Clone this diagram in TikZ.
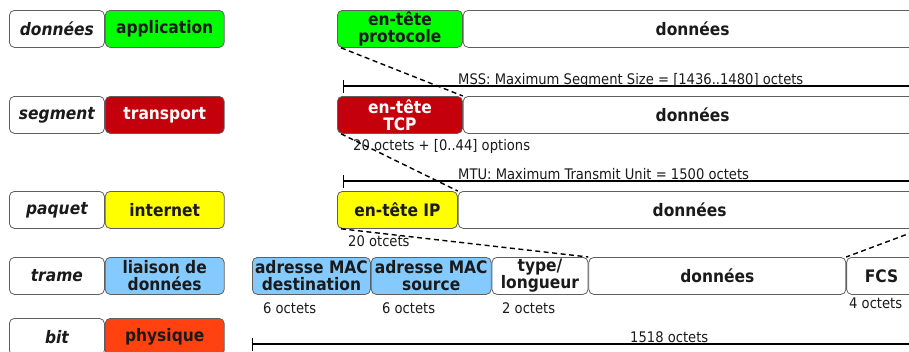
\documentclass[tikz,border=0pt]{standalone}
\usepackage{fontspec}
\setmainfont{DejaVu Sans Condensed}
\usepackage{xcolor}
\usepackage{tikz}
\usetikzlibrary{arrows.meta,positioning}

\definecolor{vertapp}{RGB}{0,255,0}
\definecolor{rougetcp}{RGB}{196,0,12}
\definecolor{jauneip}{RGB}{255,255,0}
\definecolor{bleumac}{RGB}{132,202,255}
\definecolor{orangephy}{RGB}{255,66,16}
\definecolor{bordgris}{RGB}{95,95,95}
\definecolor{noir}{RGB}{26,26,26}

\tikzset{
    case/.style={
        draw=bordgris,
        line width=0.8pt,
        rounded corners=5pt,
        inner sep=0pt,
        anchor=north west,
        minimum height=37pt,
        align=center,
        text=noir,
        font=\fontsize{17.2}{17}\selectfont\bfseries
    },
    nomcase/.style={case, minimum width=95pt, font=\fontsize{17.2}{17}\selectfont\bfseries\itshape},
    couche/.style={case, minimum width=119pt},
    note/.style={anchor=base west, inner sep=0pt, text=noir, font=\fontsize{14.6}{16}\selectfont},
    lien/.style={line width=1.4pt, dash pattern=on 5pt off 3.5pt},
    cote/.style={line width=1.4pt, {Bar[width=13pt]}-}
}

\begin{document}
\begin{tikzpicture}[x=1pt,y=-1pt]
    \useasboundingbox (0,0) rectangle (909,351);
    \clip (0,0) rectangle (909,351);

    \node[nomcase] (nApp) at (9,10) {données};
    \node[couche, fill=vertapp, right=0pt of nApp] (cApp) {application};

    \node[nomcase] (nTcp) at (9,96) {segment};
    \node[couche, fill=rougetcp, text=white, right=0pt of nTcp] (cTcp) {transport};

    \node[nomcase] (nIp) at (9,191) {paquet};
    \node[couche, fill=jauneip, right=0pt of nIp] (cIp) {internet};

    \node[nomcase] (nTrame) at (9,257) {trame};
    \node[couche, fill=bleumac, right=0pt of nTrame] (cTrame) {liaison de\\données};

    \node[nomcase] (nBit) at (9,318) {bit};
    \node[couche, fill=orangephy, right=0pt of nBit] (cBit) {physique};

    \node[case, minimum width=125pt, fill=vertapp] (hApp) at (337,10) {en-tête\\protocole};
    \node[case, minimum width=459pt, right=0pt of hApp] (dApp) {données};

    \coordinate (mssG) at (343,86);
    \coordinate (mssD) at (930,86);
    \draw[cote] (mssG) -- (mssD);
    \node[note] (mss) at (458,84) {MSS: Maximum Segment Size = [1436..1480] octets};

    \node[case, minimum width=125pt, fill=rougetcp, text=white] (hTcp) at (337,96) {en-tête\\TCP};
    \node[case, minimum width=459pt, right=0pt of hTcp] (dTcp) {données};
    \node[note] (tTcp) at (353,150) {20 octets + [0..44] options};

    \coordinate (mtuG) at (343,181);
    \coordinate (mtuD) at (930,181);
    \draw[cote] (mtuG) -- (mtuD);
    \node[note] (mtu) at (458,179) {MTU: Maximum Transmit Unit = 1500 octets};

    \node[case, minimum width=120pt, fill=jauneip] (hIp) at (337,191) {en-tête IP};
    \node[case, minimum width=463pt, right=0pt of hIp] (dIp) {données};
    \node[note] (tIp) at (348,246) {20 otcets};

    \node[case, minimum width=118pt, fill=bleumac] (macDst) at (252,257) {adresse MAC\\destination};
    \node[case, minimum width=120pt, fill=bleumac, right=0pt of macDst] (macSrc) {adresse MAC\\source};
    \node[case, minimum width=96pt, right=0pt of macSrc] (type) {type/\\longueur};
    \node[case, minimum width=257pt, right=0pt of type] (dTrame) {données};
    \node[case, minimum width=70pt, right=0pt of dTrame] (fcs) {FCS};

    \node[note] (tDst) at (263,313) {6 octets};
    \node[note] (tSrc) at (382,313) {6 octets};
    \node[note] (tType) at (502,313) {2 octets};
    \node[note] (tFcs) at (849,308) {4 octets};

    \coordinate (trameG) at (252,344);
    \coordinate (trameD) at (930,344);
    \draw[cote] (trameG) -- (trameD);
    \node[note] (tTrame) at (630,342) {1518 octets};

    \draw[lien] ([xshift=4pt]hApp.south west) -- (hTcp.north east);
    \draw[lien] ([xshift=4pt]hTcp.south west) -- (hIp.north east);
    \draw[lien] ([xshift=4pt]hIp.south west) -- (dTrame.north west);
    \draw[lien] (dIp.south east) -- (fcs.north west);
\end{tikzpicture}
\end{document}
